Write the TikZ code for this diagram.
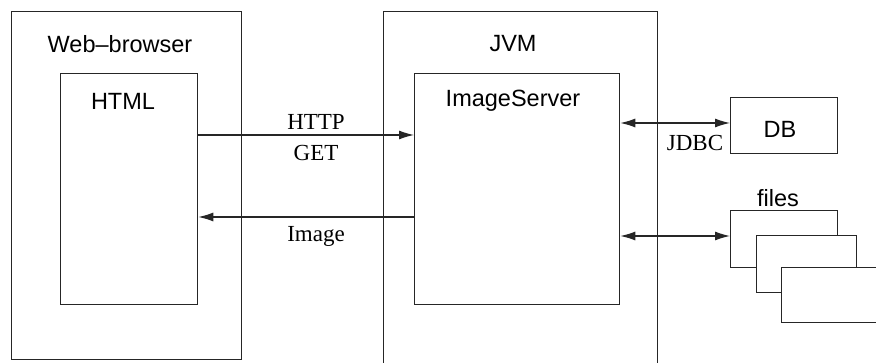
\documentclass[tikz,border=0pt]{standalone}
\usepackage{fontspec}
\setmainfont{Liberation Serif}
\newfontfamily\hel{Liberation Sans}
\usetikzlibrary{arrows.meta}
\begin{document}
\begin{tikzpicture}[x=1pt,y=-1pt,
  box/.style={draw=black!85,line width=1.3pt,fill=white,inner sep=0pt,anchor=north west},
  lab/.style={font=\hel\fontsize{23.5}{26}\selectfont,inner sep=0pt},
  slab/.style={font=\fontsize{23}{25}\selectfont,inner sep=0pt},
  tip/.tip={Latex[length=15pt,width=9pt]},
  arr/.style={line width=1.2pt,draw=black!85,-tip},
  darr/.style={line width=1.2pt,draw=black!85,tip-tip}]
\clip (0,0) rectangle (876,363);
\fill[white] (0,0) rectangle (876,363);
% outer boxes
\node[box,minimum width=230pt,minimum height=348pt] (wb) at (11,11) {};
\node[box,minimum width=274pt,minimum height=400pt] (jvm) at (383,11) {};
\node[lab] (wbl) at (120,44) {Web–browser};
\node[lab] (jvml) at (513,44) {JVM};
% inner boxes
\node[box,minimum width=137pt,minimum height=231pt] (html) at (60,73) {};
\node[box,minimum width=205pt,minimum height=231pt] (srv) at (414,73) {};
\node[lab] (htmll) at (123,101) {HTML};
\node[lab] (srvl) at (513,101) {ImageServer};
% DB and files
\node[box,minimum width=107pt,minimum height=56pt] (db) at (730,97) {};
\node[lab] (dbl) at (780,129) {DB};
\node[lab] (filesl) at (778,198) {files};
\node[box,minimum width=107pt,minimum height=57pt] (f1) at (730,210) {};
\node[box,minimum width=100pt,minimum height=57pt] (f2) at (756,235) {};
\node[box,minimum width=120pt,minimum height=55pt] (f3) at (781,267) {};
% connectors
\draw[arr] ([yshift=-62pt]html.north east) -- ([yshift=-62pt]srv.north west);
\draw[arr] ([yshift=-144pt]srv.north west) -- ([yshift=-144pt]html.north east);
\draw[darr] ([yshift=-26pt]db.north west) -- ([yshift=-50pt]srv.north east);
\draw[darr] ([yshift=-26pt]f1.north west) -- ([yshift=-163pt]srv.north east);
% labels
\node[slab] (http) at (316,122) {HTTP};
\node[slab] (get) at (316,153) {GET};
\node[slab] (img) at (316,236) {Image};
\node[slab] (jdbc) at (695,143) {JDBC};
\end{tikzpicture}
\end{document}
